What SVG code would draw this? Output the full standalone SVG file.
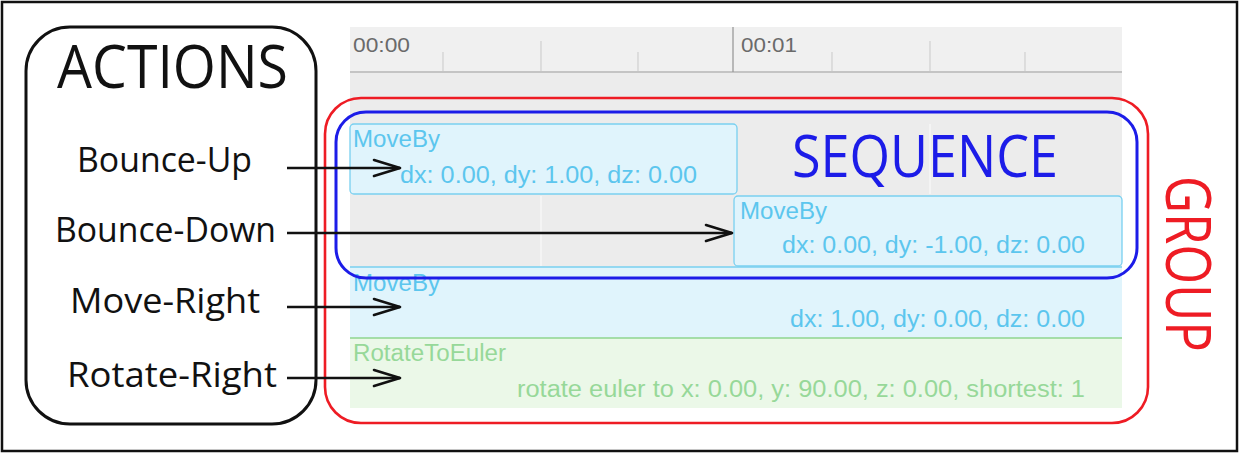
<svg xmlns="http://www.w3.org/2000/svg" width="1240" height="455" viewBox="0 0 1240 455">
<style>
.hand{font-family:"Open Sans","Liberation Sans",sans-serif;font-weight:400}
.lbl{font-size:34px;fill:#111}
.tl{font-family:"Liberation Sans","Helvetica",Arial,sans-serif}
.time{font-size:21px;fill:#6a6a6a}
.bt{font-size:23px;fill:#5cc6ee}
.gt{font-size:23px;fill:#97d899}
.tick{stroke:#c9c9c9;stroke-width:1}
.blk{fill:#e0f4fc;stroke:#79d0f0;stroke-width:1.3}
.conn{stroke:#111;stroke-width:2.5;fill:none;marker-end:url(#chev)}
</style>
<defs>
<marker id="chev" viewBox="0 0 30 20" refX="28" refY="10" markerWidth="30" markerHeight="20" markerUnits="userSpaceOnUse" orient="auto">
<path d="M2,2 L28,10 L2,18" fill="none" stroke="#111" stroke-width="2.6" stroke-linecap="round" stroke-linejoin="round"/>
</marker>
</defs>
<rect x="0" y="0" width="1240" height="455" fill="#fff"/>
<rect x="2" y="2" width="1235" height="449" fill="none" stroke="#111" stroke-width="2.5"/>

<g id="timeline">
<rect x="350" y="27" width="772" height="45" fill="#f0f0f0"/>
<rect x="350" y="72" width="772" height="336" fill="#ececec"/>
<line x1="350" y1="72" x2="1122" y2="72" stroke="#c4c4c4" stroke-width="2"/>
<line x1="733" y1="27" x2="733" y2="72" stroke="#9a9a9a" stroke-width="1.3"/>
<line class="tick" x1="443" y1="52" x2="443" y2="71"/>
<line class="tick" x1="541" y1="41" x2="541" y2="71"/>
<line class="tick" x1="638" y1="52" x2="638" y2="71"/>
<line class="tick" x1="832" y1="52" x2="832" y2="71"/>
<line class="tick" x1="930" y1="41" x2="930" y2="71"/>
<line class="tick" x1="1025" y1="52" x2="1025" y2="71"/>
<text class="tl time" x="353" y="52" textLength="57" lengthAdjust="spacingAndGlyphs">00:00</text>
<text class="tl time" x="741" y="52" textLength="56" lengthAdjust="spacingAndGlyphs">00:01</text>
<line x1="541" y1="196" x2="541" y2="266" stroke="#f7f7f7" stroke-width="1.5"/>
<line x1="930" y1="124" x2="930" y2="194" stroke="#f7f7f7" stroke-width="1.5"/>
</g>

<g id="moveby-up">
<rect class="blk" x="350" y="124" width="387" height="70" rx="4"/>
<text class="tl bt" x="353" y="147" textLength="87" lengthAdjust="spacingAndGlyphs">MoveBy</text>
<text class="tl bt" x="400" y="183" textLength="297" lengthAdjust="spacingAndGlyphs">dx: 0.00, dy: 1.00, dz: 0.00</text>
</g>

<g id="moveby-down">
<rect class="blk" x="734" y="196" width="388" height="70" rx="4"/>
<text class="tl bt" x="740" y="219" textLength="87" lengthAdjust="spacingAndGlyphs">MoveBy</text>
<text class="tl bt" x="782" y="253" textLength="303" lengthAdjust="spacingAndGlyphs">dx: 0.00, dy: -1.00, dz: 0.00</text>
</g>

<g id="moveby-right">
<rect x="350" y="267" width="772" height="71" fill="#e0f4fc"/>
<line x1="350" y1="267" x2="1122" y2="267" stroke="#79d0f0" stroke-width="1.3"/>
<text class="tl bt" x="353" y="291" textLength="87" lengthAdjust="spacingAndGlyphs">MoveBy</text>
<text class="tl bt" x="790" y="327" textLength="295" lengthAdjust="spacingAndGlyphs">dx: 1.00, dy: 0.00, dz: 0.00</text>
</g>

<g id="rotate-right">
<rect x="350" y="338" width="772" height="70" fill="#ebf8e8"/>
<line x1="350" y1="338" x2="1122" y2="338" stroke="#8fd68f" stroke-width="1.5"/>
<text class="tl gt" x="353" y="361" textLength="153" lengthAdjust="spacingAndGlyphs">RotateToEuler</text>
<text class="tl gt" x="517" y="397" textLength="568" lengthAdjust="spacingAndGlyphs">rotate euler to x: 0.00, y: 90.00, z: 0.00, shortest: 1</text>
</g>

<g id="actions">
<rect x="26" y="27" width="290" height="397" rx="44" fill="none" stroke="#111" stroke-width="3"/>
<text class="hand" x="57" y="88" font-size="60" fill="#111" textLength="231" lengthAdjust="spacingAndGlyphs">ACTIONS</text>
<text class="hand lbl" x="77" y="172" textLength="175" lengthAdjust="spacingAndGlyphs">Bounce-Up</text>
<text class="hand lbl" x="55" y="242" textLength="221" lengthAdjust="spacingAndGlyphs">Bounce-Down</text>
<text class="hand lbl" x="70" y="313" textLength="190" lengthAdjust="spacingAndGlyphs">Move-Right</text>
<text class="hand lbl" x="67" y="387" textLength="210" lengthAdjust="spacingAndGlyphs">Rotate-Right</text>
</g>

<g id="sequence">
<rect x="336" y="112" width="801" height="166" rx="30" fill="none" stroke="#1c1ce8" stroke-width="3"/>
<text class="hand" x="792" y="177" font-size="58" fill="#1c1ce8" textLength="266" lengthAdjust="spacingAndGlyphs">SEQUENCE</text>
</g>

<g id="group">
<rect x="325" y="98" width="823" height="325" rx="36" fill="none" stroke="#ee1c24" stroke-width="2.6"/>
<text class="hand" transform="translate(1166,176) rotate(90)" x="0" y="0" font-size="62" fill="#ee1c24" textLength="176" lengthAdjust="spacingAndGlyphs">GROUP</text>
</g>

<g id="connectors">
<line class="conn" x1="287" y1="168" x2="400" y2="168"/>
<line class="conn" x1="287" y1="233" x2="732" y2="233"/>
<line class="conn" x1="287" y1="307" x2="400" y2="307"/>
<line class="conn" x1="287" y1="378" x2="400" y2="378"/>
</g>
</svg>
